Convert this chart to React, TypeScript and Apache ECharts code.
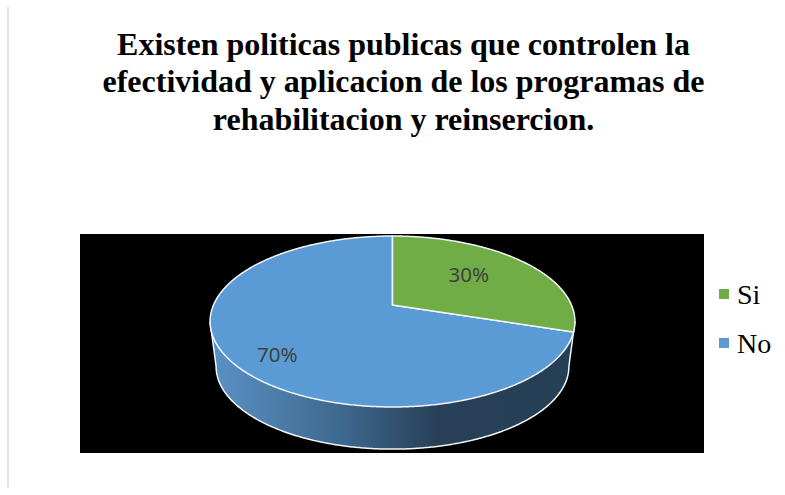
import React, { useEffect, useRef } from "react";
import * as echarts from "echarts";

const titleLines = [
  "Existen politicas publicas que controlen la",
  "efectividad y aplicacion de los programas de",
  "rehabilitacion y reinsercion.",
];
const categories = ["Si", "No"];
const values = [30, 70];
const colors = ["#70AD47", "#5B9BD5"];

// perspective projection of the pie disc
const APEX_X = 392.5;
const APEX_Y = 305;
const RX = 179;
const RY = 82.3;
const K = 0.193;
const BASE_Y = 350.5;
const BASE_SCALE = 0.967;
const SIDE_FROM = 101;
const SIDE_TO = 259;
const labelPlacement = [
  { r: 0.56, dy: -6 },
  { r: 0.73, dy: 10 },
];

function project(deg: number, r = 1, y0 = APEX_Y, s = 1): number[] {
  const t = (deg * Math.PI) / 180;
  const u = r * Math.sin(t);
  const v = -r * Math.cos(t);
  const d = 1 - K * v;
  return [APEX_X + (s * RX * u) / d, y0 + (s * RY * v) / d];
}

function arc(from: number, to: number, y0 = APEX_Y, s = 1): number[][] {
  const n = Math.max(2, Math.ceil(Math.abs(to - from) * 2));
  const pts: number[][] = [];
  for (let i = 0; i <= n; i++) pts.push(project(from + ((to - from) * i) / n, 1, y0, s));
  return pts;
}

const total = values.reduce((a, b) => a + b, 0);

function sliceStart(index: number): number {
  let sum = 0;
  for (let i = 0; i < index; i++) sum += values[i];
  return (sum / total) * 360;
}

const EDGE = "#F2F6FA";

function renderSlice(index: number) {
  return (_params: any, api: any) => {
    const value = api.value(0);
    const from = sliceStart(index);
    const to = from + (value / total) * 360;
    const children: any[] = [];
    if (index === 1) {
      const topRim = arc(SIDE_FROM, SIDE_TO);
      const baseRim = arc(SIDE_FROM, SIDE_TO, BASE_Y, BASE_SCALE);
      children.push({
        type: "polygon",
        shape: { points: [...topRim, ...baseRim.slice().reverse()] },
        style: {
          fill: new echarts.graphic.LinearGradient(0, 0, 1, 0, [
            { offset: 0, color: "#5A92C6" },
            { offset: 0.35, color: "#3F6A90" },
            { offset: 0.62, color: "#274058" },
            { offset: 1, color: "#253F55" },
          ]),
        },
      });
      children.push({
        type: "polyline",
        shape: { points: [topRim[topRim.length - 1], ...baseRim.slice().reverse(), topRim[0]] },
        style: { fill: "none", stroke: EDGE, lineWidth: 1.5 },
      });
    }
    children.push({
      type: "polygon",
      shape: { points: [[APEX_X, APEX_Y], ...arc(from, to)] },
      style: { fill: colors[index], stroke: EDGE, lineWidth: 1.5, lineJoin: "round" },
    });
    const mid = (from + to) / 2;
    const place = labelPlacement[index];
    const p = project(mid, place.r);
    children.push({
      type: "text",
      z2: 10,
      style: {
        x: p[0],
        y: p[1] + place.dy,
        text: `${value}%`,
        fill: "#404040",
        font: '20.5px "Noto Sans"',
        align: "center",
        verticalAlign: "middle",
      },
    });
    return { type: "group", children };
  };
}

export default function App() {
  const ref = useRef<HTMLDivElement>(null);
  useEffect(() => {
    const chart = echarts.init(ref.current!, undefined, { renderer: "svg" });
    chart.setOption({
      animation: false,
      backgroundColor: "#FFFFFF",
      title: {
        text: titleLines.join("\n"),
        left: 398.5,
        top: 20,
        textAlign: "center",
        textStyle: {
          fontFamily: '"Liberation Serif"',
          fontWeight: "bold",
          fontSize: 32,
          lineHeight: 37.5,
          color: "#000000",
        },
      },
      legend: {
        orient: "vertical",
        left: 719,
        top: 280,
        padding: 0,
        itemWidth: 10,
        itemHeight: 10,
        itemGap: 21,
        icon: "rect",
        data: categories,
        textStyle: {
          fontFamily: '"Liberation Serif"',
          fontSize: 28,
          color: "#000000",
          padding: [0, 0, 0, 3],
        },
      },
      graphic: [
        { type: "rect", z: -1, shape: { x: 7, y: 7, width: 2, height: 480 }, style: { fill: "#E2E2E2" } },
        { type: "rect", z: -1, shape: { x: 80, y: 234, width: 624, height: 219 }, style: { fill: "#000000" } },
      ],
      series: [1, 0].map((i) => ({
        type: "custom",
        name: categories[i],
        coordinateSystem: "none",
        itemStyle: { color: colors[i] },
        data: [[values[i]]],
        renderItem: renderSlice(i),
      })),
    });
    return () => chart.dispose();
  }, []);
  return (
    <div
      ref={ref}
      style={{ position: "fixed", left: 0, top: 0, width: 785, height: 495 }}
    />
  );
}
